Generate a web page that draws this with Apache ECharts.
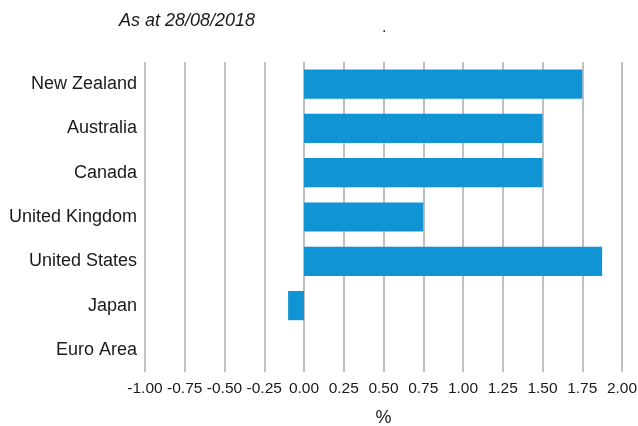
<!DOCTYPE html>
<html><head><meta charset="utf-8">
<script src="https://cdn.jsdelivr.net/npm/echarts@6/dist/echarts.min.js"></script>
<style>html,body{margin:0;padding:0;background:#fff}#c{width:638px;height:426px}</style>
</head><body><div id="c"></div>
<script>
const categories = ['New Zealand','Australia','Canada','United Kingdom','United States','Japan','Euro Area'];
const rates = [1.75, 1.50, 1.50, 0.75, 1.875, -0.10, 0.00];
const titleText = 'As at 28/08/2018';
const axisName = '%';

const chart = echarts.init(document.getElementById('c'));
chart.setOption({
  animation: false,
  backgroundColor: '#ffffff',
  title: {
    text: titleText, left: 114, top: 7,
    textStyle: {fontFamily: 'Liberation Sans', fontStyle: 'italic', fontWeight: 'normal', fontSize: 18, color: '#1a1a1a'}
  },
  graphic: [{type: 'text', left: 382, top: 20, style: {text: '.', fontSize: 16, fill: '#1a1a1a', fontFamily: 'Liberation Sans'}}],
  grid: {left: 145, right: 16, top: 62, bottom: 54, containLabel: false, outerBoundsMode: 'none'},
  xAxis: {
    type: 'value', min: -1, max: 2, interval: 0.25,
    name: axisName, nameLocation: 'middle', nameGap: 37,
    nameTextStyle: {fontFamily: 'Liberation Sans', fontSize: 18, color: '#1a1a1a'},
    axisLine: {show: false}, axisTick: {show: false},
    axisLabel: {margin: 9, fontFamily: 'Liberation Sans', fontSize: 15.5, color: '#1a1a1a', hideOverlap: false,
      showMinLabel: true, showMaxLabel: true,
      formatter: v => v.toFixed(2)},
    splitLine: {show: true, lineStyle: {color: '#ababab', width: 1.5}}
  },
  yAxis: {
    type: 'category', data: categories, inverse: true,
    axisLine: {show: false}, axisTick: {show: false},
    axisLabel: {margin: 8, fontFamily: 'Liberation Sans', fontSize: 18, color: '#1a1a1a'}
  },
  series: [{
    type: 'bar', data: rates, barCategoryGap: '34%',
    itemStyle: {color: '#1194d3'}
  }]
});
</script></body></html>
